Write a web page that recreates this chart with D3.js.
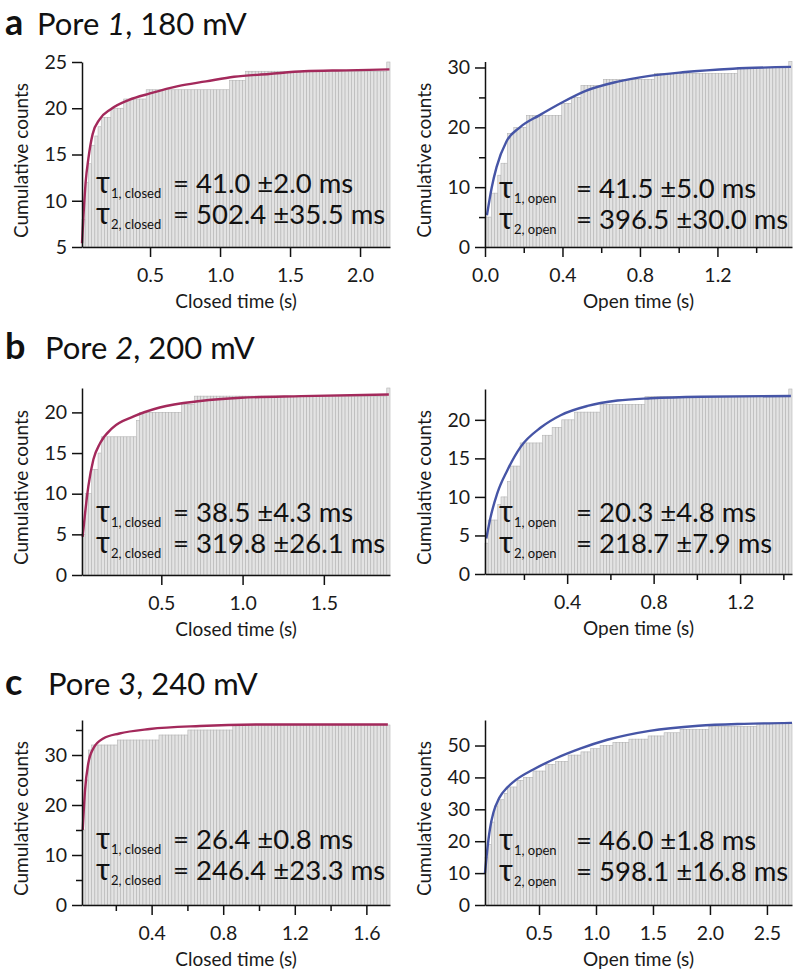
<!DOCTYPE html>
<html><head><meta charset="utf-8">
<script src="https://cdn.jsdelivr.net/npm/d3@7"></script>
<style>body{margin:0;background:#fff} svg{display:block}</style>
</head><body>
<svg id="chart" width="796" height="978"></svg>
<script>
// ---------- DATA ----------
// cumulative-count step functions: [time (s), cumulative count from that time on]
const aClosedSteps = [[0,6],[0.02,8],[0.03,10],[0.04,12],[0.05,13],[0.06,14],[0.08,16],[0.10,17],[0.12,18],[0.15,19],[0.22,20],[0.32,21],[0.47,22],[1.07,23],[1.19,24],[2.19,25]];
const aOpenSteps   = [[0,5],[0.035,9],[0.07,12],[0.085,14],[0.11,19],[0.155,20],[0.22,22],[0.40,24],[0.44,25],[0.50,27],[0.61,28],[0.87,29],[1.30,30],[1.57,31]];
const bClosedSteps = [[0,5],[0.03,10],[0.07,13],[0.11,15],[0.135,17],[0.35,19],[0.37,20],[0.62,21],[0.70,22],[1.89,23]];
const bOpenSteps   = [[0,4],[0.04,7],[0.075,9],[0.09,10],[0.12,12],[0.145,14],[0.19,17],[0.28,18],[0.325,19],[0.37,20],[0.43,21],[0.55,22],[0.76,23],[1.43,24]];
const cClosedSteps = [[0,15],[0.03,25],[0.05,31],[0.07,32],[0.21,33],[0.45,34],[0.6,35],[0.85,36]];
const cOpenSteps   = [[0,10],[0.04,15],[0.055,19],[0.07,23],[0.085,26],[0.1,28],[0.12,31],[0.15,33],[0.19,35],[0.23,37],[0.3,39],[0.37,40],[0.45,42],[0.55,44],[0.65,45],[0.75,47],[0.86,48],[0.95,49],[1.05,50],[1.15,51],[1.3,52],[1.45,53],[1.6,54],[1.75,55],[2.0,56],[2.4,57]];

// fitted curves, points: [time (s), counts]
const aClosedFit = [[0.014,5.4],[0.025,8.5],[0.04,12],[0.06,14.6],[0.09,17.2],[0.14,18.8],[0.22,19.9],[0.35,20.9],[0.5,21.6],[0.7,22.4],[0.9,22.9],[1.1,23.4],[1.35,23.7],[1.6,24.0],[1.9,24.1],[2.21,24.2]];
const aOpenFit   = [[0.01,5.3],[0.035,10],[0.06,13.4],[0.11,17.6],[0.18,20],[0.28,22],[0.40,24.2],[0.52,26.1],[0.68,27.6],[0.85,28.6],[1.02,29.2],[1.28,29.8],[1.58,30.1]];
const bClosedFit = [[0.016,4.7],[0.031,7.6],[0.051,10.9],[0.082,14.2],[0.123,16.2],[0.2,18.1],[0.33,19.5],[0.49,20.6],[0.74,21.4],[0.99,21.8],[1.36,22.0],[1.9,22.2]];
const bOpenFit   = [[0.026,4.6],[0.046,7.4],[0.077,10.5],[0.124,13.5],[0.185,16.5],[0.278,19],[0.37,20.6],[0.494,21.8],[0.633,22.5],[0.787,22.8],[1.02,23.0],[1.435,23.1]];
const cClosedFit = [[0.015,15],[0.028,23],[0.046,28.3],[0.074,31.3],[0.13,33.3],[0.22,34.3],[0.39,35.2],[0.67,35.8],[1.04,36.1],[1.72,36.1]];
const cOpenFit   = [[0.026,10],[0.045,17],[0.07,24],[0.1,29],[0.15,33.5],[0.22,36.8],[0.3,39.3],[0.45,42.5],[0.65,46],[0.86,49],[1.1,51.8],[1.47,54.6],[1.9,56.2],[2.3,56.8],[2.72,57.1]];

// axis domains and ticks
const aClosedX = [0.014, 2.214], aClosedY = [5, 25];
const aOpenX   = [0, 1.585],     aOpenY   = [0, 31];
const bClosedX = [0.012, 1.907], bClosedY = [0, 23];
const bOpenX   = [0.02, 1.44],   bOpenY   = [0, 24];
const cClosedX = [0.011, 1.732], cClosedY = [0, 37];
const cOpenX   = [0.026, 2.72],  cOpenY   = [0, 58];

const aClosedXTicks = [0.5, 1.0, 1.5, 2.0], aClosedXMinor = [];
const aClosedYTicks = [5, 10, 15, 20, 25],  aClosedYMinor = [];
const aOpenXTicks = [0, 0.4, 0.8, 1.2],     aOpenXMinor = [0.2, 0.6, 1.0, 1.4];
const aOpenYTicks = [0, 10, 20, 30],        aOpenYMinor = [5, 15, 25];
const bClosedXTicks = [0.5, 1.0, 1.5],      bClosedXMinor = [];
const bClosedYTicks = [0, 5, 10, 15, 20],   bClosedYMinor = [];
const bOpenXTicks = [0.4, 0.8, 1.2],        bOpenXMinor = [0.2, 0.6, 1.0, 1.4];
const bOpenYTicks = [0, 5, 10, 15, 20],     bOpenYMinor = [];
const cClosedXTicks = [0.4, 0.8, 1.2, 1.6], cClosedXMinor = [0.2, 0.6, 1.0, 1.4];
const cClosedYTicks = [0, 10, 20, 30],      cClosedYMinor = [5, 15, 25, 35];
const cOpenXTicks = [0.5, 1.0, 1.5, 2.0, 2.5], cOpenXMinor = [];
const cOpenYTicks = [0, 10, 20, 30, 40, 50],   cOpenYMinor = [];

// fitted time constants
const aClosedTau = ["41.0 ±2.0 ms", "502.4 ±35.5 ms"];
const aOpenTau   = ["41.5 ±5.0 ms", "396.5 ±30.0 ms"];
const bClosedTau = ["38.5 ±4.3 ms", "319.8 ±26.1 ms"];
const bOpenTau   = ["20.3 ±4.8 ms", "218.7 ±7.9 ms"];
const cClosedTau = ["26.4 ±0.8 ms", "246.4 ±23.3 ms"];
const cOpenTau   = ["46.0 ±1.8 ms", "598.1 ±16.8 ms"];

const rowTitles = [["a","1",", 180 mV"],["b","2",", 200 mV"],["c","3",", 240 mV"]];

// ---------- LAYOUT ----------
const FONT = "Lato, 'Open Sans', 'DejaVu Sans', sans-serif";
const CLOSED_COLOR = "#a3295b", OPEN_COLOR = "#4655a6";
const L = {left:82, right:390}, R = {left:485, right:792};

const panels = [
  {box:{...L, top:62,  bottom:247}, steps:aClosedSteps, fit:aClosedFit, xd:aClosedX, yd:aClosedY, xt:aClosedXTicks, xm:aClosedXMinor, yt:aClosedYTicks, ym:aClosedYMinor, tau:aClosedTau, kind:"closed", tb:[193,224]},
  {box:{...R, top:61.5,bottom:247}, steps:aOpenSteps,   fit:aOpenFit,   xd:aOpenX,   yd:aOpenY,   xt:aOpenXTicks,   xm:aOpenXMinor,   yt:aOpenYTicks,   ym:aOpenYMinor,   tau:aOpenTau,   kind:"open",   tb:[198,229]},
  {box:{...L, top:388, bottom:575}, steps:bClosedSteps, fit:bClosedFit, xd:bClosedX, yd:bClosedY, xt:bClosedXTicks, xm:bClosedXMinor, yt:bClosedYTicks, ym:bClosedYMinor, tau:bClosedTau, kind:"closed", tb:[522,553]},
  {box:{...R, top:389, bottom:574}, steps:bOpenSteps,   fit:bOpenFit,   xd:bOpenX,   yd:bOpenY,   xt:bOpenXTicks,   xm:bOpenXMinor,   yt:bOpenYTicks,   ym:bOpenYMinor,   tau:bOpenTau,   kind:"open",   tb:[522,553]},
  {box:{...L, top:720, bottom:905}, steps:cClosedSteps, fit:cClosedFit, xd:cClosedX, yd:cClosedY, xt:cClosedXTicks, xm:cClosedXMinor, yt:cClosedYTicks, ym:cClosedYMinor, tau:cClosedTau, kind:"closed", tb:[849,880]},
  {box:{...R, top:720, bottom:905}, steps:cOpenSteps,   fit:cOpenFit,   xd:cOpenX,   yd:cOpenY,   xt:cOpenXTicks,   xm:cOpenXMinor,   yt:cOpenYTicks,   ym:cOpenYMinor,   tau:cOpenTau,   kind:"open",   tb:[850,881]}
];
const titleRows = [{y:35, px:37}, {y:359, px:45}, {y:695, px:48}];

const svg = d3.select("#chart").style("font-family", FONT);
const N_BINS = 96;

function stepValue(steps, t) {
  let v = steps[0][1];
  for (const [st, c] of steps) { if (st <= t) v = c; else break; }
  return v;
}

panels.forEach(p => {
  const b = p.box;
  const x = d3.scaleLinear().domain(p.xd).range([b.left, b.right]);
  const y = d3.scaleLinear().domain(p.yd).range([b.bottom, b.top]);
  const g = svg.append("g");
  const binW = (p.xd[1] - p.xd[0]) / N_BINS;
  const bins = d3.range(N_BINS).map(i => {
    const t0 = p.xd[0] + i * binW, t1 = t0 + binW;
    return {t0, t1, v: stepValue(p.steps, (t0 + t1) / 2)};
  });
  g.append("g").selectAll("rect").data(bins).join("rect")
    .attr("x", d => x(d.t0)).attr("width", d => x(d.t1) - x(d.t0))
    .attr("y", d => y(d.v)).attr("height", d => y(p.yd[0]) - y(d.v))
    .attr("fill", "#e3e3e3").attr("stroke", "#b4b4b4").attr("stroke-width", 0.6);

  // fit curve
  const line = d3.line().x(d => x(d[0])).y(d => y(d[1])).curve(d3.curveMonotoneX);
  g.append("path").datum(p.fit).attr("d", line).attr("fill", "none")
    .attr("stroke", p.kind === "closed" ? CLOSED_COLOR : OPEN_COLOR).attr("stroke-width", 2.4);

  // axes
  const fmtX = d3.format(".1f");
  g.append("g").attr("transform", `translate(0,${b.bottom})`)
    .call(d3.axisBottom(x).tickValues(p.xt).tickFormat(fmtX).tickSize(10).tickSizeOuter(0).tickPadding(11));
  g.append("g").attr("transform", `translate(0,${b.bottom})`)
    .call(d3.axisBottom(x).tickValues(p.xm).tickFormat("").tickSize(6).tickSizeOuter(0))
    .select(".domain").remove();
  g.append("g").attr("transform", `translate(${b.left},0)`)
    .call(d3.axisLeft(y).tickValues(p.yt).tickFormat(d3.format("d")).tickSize(10).tickSizeOuter(0).tickPadding(5));
  g.append("g").attr("transform", `translate(${b.left},0)`)
    .call(d3.axisLeft(y).tickValues(p.ym).tickFormat("").tickSize(6).tickSizeOuter(0))
    .select(".domain").remove();
  g.selectAll(".domain, .tick line").attr("stroke", "#111").attr("stroke-width", 1.5);
  g.selectAll(".tick text").attr("font-family", FONT).attr("font-size", 19.5).attr("fill", "#1a1a1a");

  // axis titles
  g.append("text").attr("x", (b.left + b.right) / 2).attr("y", b.bottom + 61)
    .attr("text-anchor", "middle").attr("font-size", 19).attr("fill", "#1a1a1a")
    .text(p.kind === "closed" ? "Closed time (s)" : "Open time (s)");
  const cy = (b.top + b.bottom) / 2 + 6;
  g.append("text").attr("transform", `translate(${b.left - 54},${cy}) rotate(-90)`)
    .attr("text-anchor", "middle").attr("font-size", 19).attr("fill", "#1a1a1a")
    .text("Cumulative counts");

  // tau annotation
  const tx = b.left + 14, eqx = b.left + 91;
  p.tau.forEach((val, k) => {
    const t = g.append("text").attr("y", p.tb[k]).attr("fill", "#111");
    t.append("tspan").attr("x", tx).attr("font-size", 30).text("τ");
    t.append("tspan").attr("dx", 1).attr("dy", 5).attr("font-size", 13).text(`${k + 1}, ${p.kind}`);
    t.append("tspan").attr("x", eqx).attr("dy", -5).attr("font-size", 27.5).text("= " + val);
  });
});

// row titles
rowTitles.forEach((r, i) => {
  const tr = titleRows[i];
  svg.append("text").attr("x", 5).attr("y", tr.y).attr("font-size", 36).attr("font-weight", 700)
    .attr("fill", "#111").text(r[0]);
  const t = svg.append("text").attr("x", tr.px).attr("y", tr.y).attr("font-size", 31).attr("fill", "#111");
  t.append("tspan").text("Pore ");
  t.append("tspan").attr("font-style", "italic").text(r[1]);
  t.append("tspan").text(r[2]);
});
</script>
</body></html>
